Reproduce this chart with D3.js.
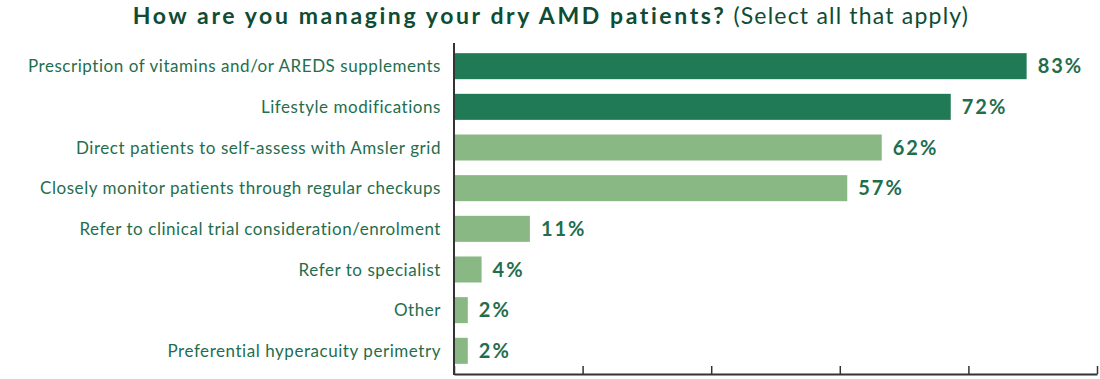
<!DOCTYPE html>
<html>
<head>
<meta charset="utf-8">
<script src="https://cdn.jsdelivr.net/npm/d3@7"></script>
<style>
  html, body { margin: 0; padding: 0; background: #fff; }
  svg { display: block; }
</style>
</head>
<body>
<svg id="chart" width="1100" height="379"></svg>
<script>
const categories = [
  "Prescription of vitamins and/or AREDS supplements",
  "Lifestyle modifications",
  "Direct patients to self-assess with Amsler grid",
  "Closely monitor patients through regular checkups",
  "Refer to clinical trial consideration/enrolment",
  "Refer to specialist",
  "Other",
  "Preferential hyperacuity perimetry"
];
const values = [83, 72, 62, 57, 11, 4, 2, 2];
const highlight = [true, true, false, false, false, false, false, false];
const valueLabels = ["83%", "72%", "62%", "57%", "11%", "4%", "2%", "2%"];
const titleBold = "How are you managing your dry AMD patients?";
const titleRegular = " (Select all that apply)";
const axisMax = 93.2;
const tickCount = 5;

const svg = d3.select("#chart");
const margin = { left: 454, right: 3, top: 43, bottom: 5 };
const W = 1100, H = 379;

const x = d3.scaleLinear().domain([0, axisMax]).range([margin.left, W - margin.right]);
const y = d3.scaleBand().domain(categories).range([margin.top, H - margin.bottom])
  .paddingInner(0.36).paddingOuter(0.25);

const darkGreen = "#207a56";
const lightGreen = "#8ab884";
const textGreen = "#1f6e4e";
const titleGreen = "#0e4c34";
const font = "Lato, 'Open Sans', sans-serif";

// Title
const title = svg.append("text")
  .attr("x", W / 2 + 1).attr("y", 24)
  .attr("text-anchor", "middle")
  .attr("font-family", font)
  .attr("font-size", 23)
  .attr("fill", titleGreen);
title.append("tspan").attr("font-weight", 700).attr("letter-spacing", 2.6).text(titleBold);
title.append("tspan").attr("font-weight", 400).attr("letter-spacing", 1.2).text(titleRegular);

// Bars
svg.append("g").selectAll("rect").data(categories).join("rect")
  .attr("x", x(0))
  .attr("y", d => y(d))
  .attr("width", (d, i) => x(values[i]) - x(0))
  .attr("height", y.bandwidth())
  .attr("fill", (d, i) => highlight[i] ? darkGreen : lightGreen);

// Value labels
svg.append("g").selectAll("text").data(categories).join("text")
  .attr("x", (d, i) => x(values[i]) + 11)
  .attr("y", d => y(d) + y.bandwidth() / 2)
  .attr("dy", "0.36em")
  .attr("font-family", font)
  .attr("font-weight", 700)
  .attr("font-size", 20)
  .attr("letter-spacing", 2)
  .attr("fill", textGreen)
  .text((d, i) => valueLabels[i]);

// Category labels
svg.append("g").selectAll("text").data(categories).join("text")
  .attr("x", margin.left - 13)
  .attr("y", d => y(d) + y.bandwidth() / 2)
  .attr("dy", "0.36em")
  .attr("text-anchor", "end")
  .attr("font-family", font)
  .attr("font-size", 17)
  .attr("letter-spacing", 0.55)
  .attr("fill", textGreen)
  .text(d => d);

// X axis (ticks inward, no labels)
const tickVals = d3.range(tickCount + 1).map(i => axisMax * i / tickCount);
const xAxis = d3.axisBottom(x).tickValues(tickVals).tickSize(-8).tickSizeOuter(0).tickFormat("");
const gx = svg.append("g").attr("transform", `translate(0,${H - margin.bottom})`).call(xAxis);
gx.select(".domain").attr("stroke", "#333").attr("stroke-width", 2);
gx.selectAll(".tick line").attr("stroke", "#333").attr("stroke-width", 1.5);

// Y axis line
svg.append("line")
  .attr("x1", x(0)).attr("x2", x(0))
  .attr("y1", margin.top).attr("y2", H - margin.bottom + 1)
  .attr("stroke", "#333").attr("stroke-width", 2);
</script>
</body>
</html>
